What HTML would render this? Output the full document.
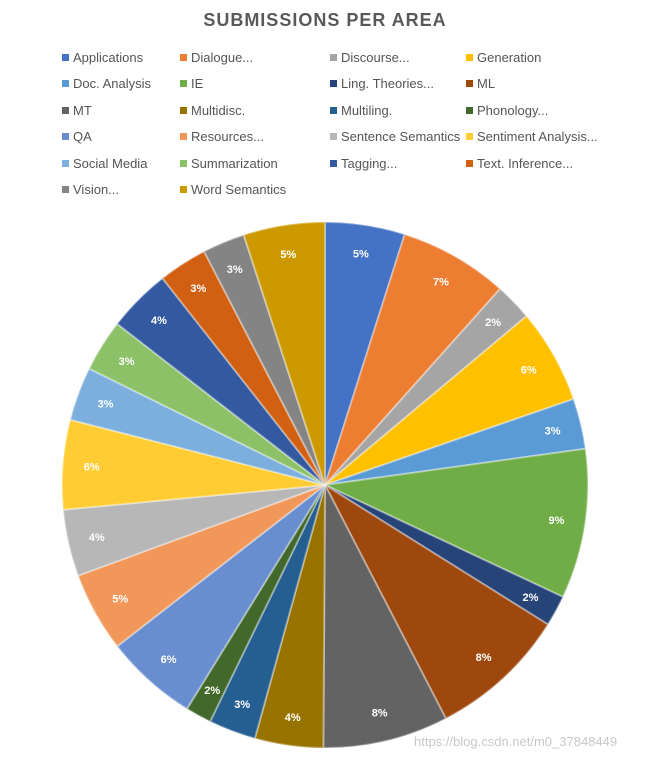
<!DOCTYPE html>
<html><head><meta charset="utf-8"><style>
body{margin:0;background:#fff;font-family:"Liberation Sans",sans-serif;}
#wrap{position:relative;width:650px;height:758px;overflow:hidden;}
#title{position:absolute;top:10px;left:0;width:650px;text-align:center;font-weight:bold;font-size:18px;color:#595959;letter-spacing:1px;}
.lg{position:absolute;font-size:13px;color:#555;white-space:nowrap;}
.lg i{display:inline-block;width:7px;height:7px;margin-right:4px;vertical-align:1px;}
</style></head><body>
<div id="wrap">
<div id="title">SUBMISSIONS PER AREA</div>
<div id="legend"></div>
<svg id="pie" width="650" height="758" style="position:absolute;left:0;top:0"></svg>
</div>
<script>
const categories=["Applications","Dialogue...","Discourse...","Generation","Doc. Analysis","IE","Ling. Theories...","ML","MT","Multidisc.","Multiling.","Phonology...","QA","Resources...","Sentence Semantics","Sentiment Analysis...","Social Media","Summarization","Tagging...","Text. Inference...","Vision...","Word Semantics"];
const values=[4.9,6.7,2.3,5.8,3.1,9.2,1.9,8.5,7.7,4.2,2.9,1.6,5.7,4.9,4.1,5.5,3.3,3.2,3.9,3.0,2.6,5.0];
const labels=["5%","7%","2%","6%","3%","9%","2%","8%","8%","4%","3%","2%","6%","5%","4%","6%","3%","3%","4%","3%","3%","5%"];
const colors=["#4472C4","#ED7D31","#A5A5A5","#FFC000","#5B9BD5","#70AD47","#264478","#9E480E","#636363","#997300","#255E91","#43682B","#698ED0","#F1975A","#B7B7B7","#FFCD33","#7CAFDD","#8CC168","#335AA1","#D26012","#848484","#CC9A00"];
const NS="http://www.w3.org/2000/svg";
const svg=document.getElementById('pie');
const cx=325,cy=485,r=263;
const total=values.reduce((a,b)=>a+b,0);
let acc=0;
function pt(a,rr){return [cx+rr*Math.sin(a),cy-rr*Math.cos(a)];}
values.forEach((v,i)=>{
  const a0=acc/total*2*Math.PI; acc+=v; const a1=acc/total*2*Math.PI;
  const p0=pt(a0,r),p1=pt(a1,r);
  const large=(a1-a0)>Math.PI?1:0;
  const p=document.createElementNS(NS,'path');
  p.setAttribute('d',`M${cx},${cy}L${p0[0]},${p0[1]}A${r},${r} 0 ${large} 1 ${p1[0]},${p1[1]}Z`);
  p.setAttribute('fill',colors[i]);
  p.setAttribute('stroke','rgba(255,255,255,0.35)');
  p.setAttribute('stroke-width','2');
  
  
  svg.appendChild(p);
  const am=(a0+a1)/2, lp=pt(am,r*0.89);
  const t=document.createElementNS(NS,'text');
  t.setAttribute('x',lp[0]);t.setAttribute('y',lp[1]+4);
  t.setAttribute('text-anchor','middle');t.setAttribute('fill','#fff');
  t.setAttribute('font-size','11');t.setAttribute('font-weight','bold');
  t.setAttribute('font-family','Liberation Sans, sans-serif');
  t.textContent=labels[i];
  
  
  svg.appendChild(t);
});
const wm=document.createElementNS(NS,'text');
wm.setAttribute('x','414');wm.setAttribute('y','746');wm.setAttribute('fill','#c8c8c8');
wm.setAttribute('font-size','13');wm.setAttribute('font-family','Liberation Sans, sans-serif');
wm.textContent='https://blog.csdn.net/m0_37848449';


svg.appendChild(wm);
const lg=document.getElementById('legend');
const colX=[62,180,330,466];
categories.forEach((c,i)=>{
  const d=document.createElement('div');
  d.className='lg';
  d.style.left=colX[i%4]+'px';
  d.style.top=(50+Math.floor(i/4)*26.4)+'px';
  d.innerHTML='<i style="background:'+colors[i]+'"></i>'+c;
  
  
  lg.appendChild(d);
});
</script>
</body></html>
